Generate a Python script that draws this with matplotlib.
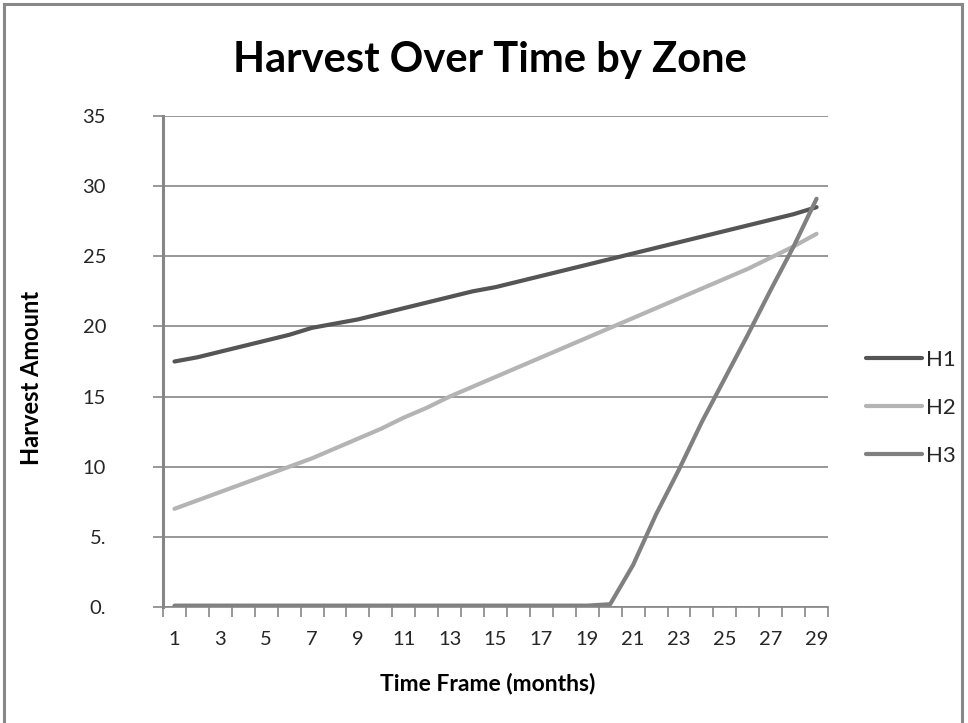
#!/usr/bin/env python3
"""Excel-style line chart: harvest over time by zone."""

import matplotlib
matplotlib.use('Agg')
import matplotlib.pyplot as plt
from matplotlib.lines import Line2D

plt.rcParams.update({
    'font.family': ['Lato', 'DejaVu Sans'],
    'figure.dpi': 100,
})

# Data
months = list(range(1, 30))
h1 = [17.5, 17.8, 18.2, 18.6, 19.0, 19.4, 19.9, 20.2, 20.5, 20.9,
      21.3, 21.7, 22.1, 22.5, 22.8, 23.2, 23.6, 24.0, 24.4, 24.8,
      25.2, 25.6, 26.0, 26.4, 26.8, 27.2, 27.6, 28.0, 28.5]
h2 = [7.0, 7.6, 8.2, 8.8, 9.4, 10.0, 10.6, 11.3, 12.0, 12.7,
      13.5, 14.2, 15.0, 15.7, 16.4, 17.1, 17.8, 18.5, 19.2, 19.9,
      20.6, 21.3, 22.0, 22.7, 23.4, 24.1, 24.9, 25.7, 26.6]
h3 = [0.1, 0.1, 0.1, 0.1, 0.1, 0.1, 0.1, 0.1, 0.1, 0.1,
      0.1, 0.1, 0.1, 0.1, 0.1, 0.1, 0.1, 0.1, 0.1, 0.2,
      3.0, 6.6, 9.8, 13.2, 16.3, 19.4, 22.6, 25.7, 29.1]
series_names = ['H1', 'H2', 'H3']
y_ticks = [0, 5, 10, 15, 20, 25, 30, 35]
y_tick_labels = ['0.', '5.', '10', '15', '20', '25', '30', '35']
x_ticks = months[::2]

colors = ['#555555', '#b4b4b4', '#808080']
grid_col = '#868686'
txt_col = '#262626'

fig = plt.figure(figsize=(9.68, 7.23))
ax = fig.add_axes([0.1684, 0.1604, 0.687, 0.6792])

for vals, name, c in zip([h1, h2, h3], series_names, colors):
    ax.plot(months, vals, color=c, lw=3.0, label=name, solid_capstyle='round')

ax.set_xlim(0.5, 29.5)
ax.set_ylim(0, 35)

ax.set_yticks(y_ticks)
ax.set_yticklabels(y_tick_labels)
ax.yaxis.grid(True, color=grid_col, lw=1.2)
ax.set_axisbelow(True)
ax.tick_params(axis='y', length=7, width=1.2, color=grid_col, pad=34,
               labelsize=14.5, labelcolor=txt_col)

ax.set_xticks(x_ticks)
ax.set_xticklabels([str(m) for m in x_ticks])
ax.set_xticks([m - 0.5 for m in months] + [29.5], minor=True)
ax.tick_params(axis='x', which='major', length=0, pad=17,
               labelsize=14.5, labelcolor=txt_col)
ax.tick_params(axis='x', which='minor', length=7, width=1.2, color=grid_col)

for s in ['top', 'right']:
    ax.spines[s].set_visible(False)
ax.spines['left'].set_color(grid_col)
ax.spines['left'].set_linewidth(2.2)
ax.spines['bottom'].set_color(grid_col)
ax.spines['bottom'].set_linewidth(1.2)

ax.set_ylabel('Harvest Amount', fontsize=17, fontweight='bold')
ax.yaxis.set_label_coords(32 / 968, 0.5, transform=fig.transFigure)
ax.set_xlabel('Time Frame (months)', fontsize=16.5, fontweight='bold')
ax.xaxis.set_label_coords(0.5, 1 - 683 / 723, transform=fig.transFigure)
ax.xaxis.label.set_va('center')
ax.xaxis.label.set_x(488 / 968)
ax.yaxis.label.set_va('center')
ax.yaxis.label.set_y(1 - 378 / 723)

fig.text(0.506, 0.917, 'Harvest Over Time by Zone', ha='center', va='center',
         fontsize=30, fontweight='bold')

ax.legend(loc='center left', bbox_to_anchor=(866 / 968, 1 - 408 / 723),
          bbox_transform=fig.transFigure, frameon=False, fontsize=16,
          handlelength=2.5, handletextpad=0.22, labelspacing=1.25,
          borderpad=0, borderaxespad=0, labelcolor=txt_col)

# outer chart border (left, top, right)
for xs, ys in [([0.004, 0.004], [0, 0.995]), ([0.004, 0.994], [0.995, 0.995]),
               ([0.994, 0.994], [0, 0.995])]:
    fig.add_artist(Line2D(xs, ys, transform=fig.transFigure, color='#888888', lw=2.2))

fig.savefig('out.png', dpi=100)
